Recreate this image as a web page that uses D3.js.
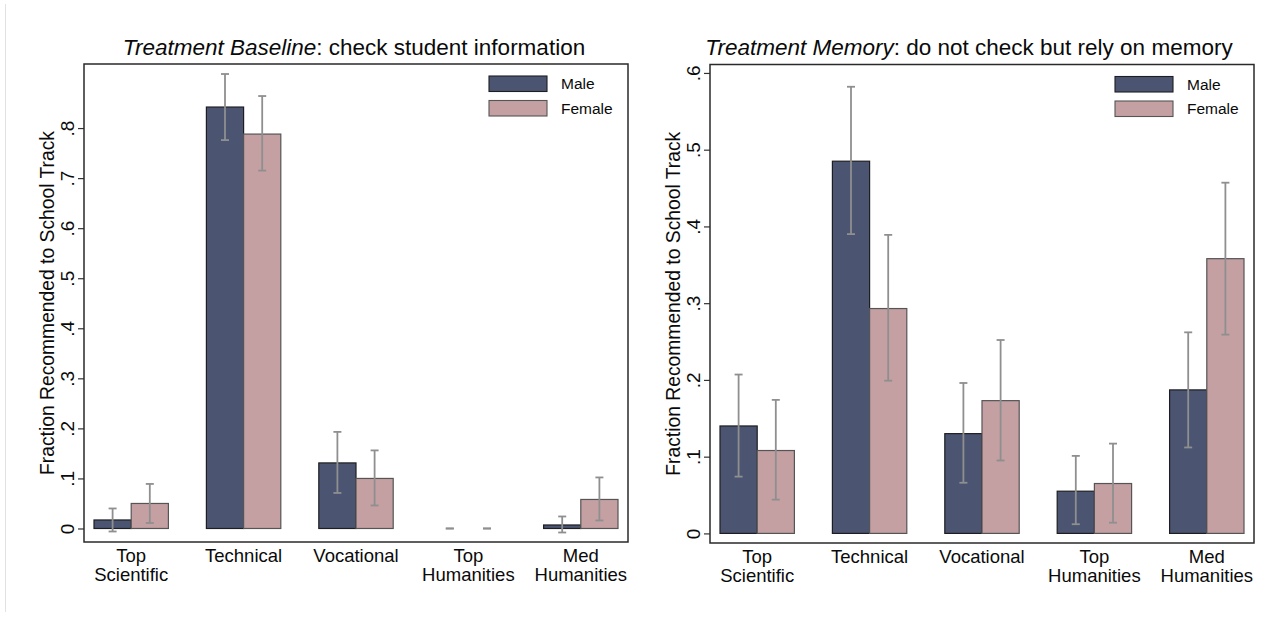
<!DOCTYPE html>
<html>
<head>
<meta charset="utf-8">
<script src="https://cdn.jsdelivr.net/npm/d3@7"></script>
<style>
    body { margin: 0; background: #fff; }
    svg { display: block; font-family: 'Liberation Sans', Arial, Helvetica, sans-serif; }
</style>
</head>
<body>
<div id="viz"></div>
<script>
const categories = ['Top Scientific', 'Technical', 'Vocational', 'Top Humanities', 'Med Humanities']
const categoryLines = [['Top', 'Scientific'], ['Technical'], ['Vocational'], ['Top', 'Humanities'], ['Med', 'Humanities']]
const groups = ['Male', 'Female']

// Treatment Baseline
const baselineMale = [0.017, 0.842, 0.131, 0, 0.007]
const baselineMaleLo = [-0.006, 0.776, 0.071, 0, -0.008]
const baselineMaleHi = [0.040, 0.908, 0.193, 0, 0.024]
const baselineFemale = [0.050, 0.788, 0.100, 0, 0.058]
const baselineFemaleLo = [0.011, 0.715, 0.046, 0, 0.016]
const baselineFemaleHi = [0.089, 0.864, 0.156, 0, 0.102]
const baselineTicks = [0, 0.1, 0.2, 0.3, 0.4, 0.5, 0.6, 0.7, 0.8]

// Treatment Memory
const memoryMale = [0.140, 0.485, 0.130, 0.055, 0.187]
const memoryMaleLo = [0.074, 0.390, 0.066, 0.012, 0.112]
const memoryMaleHi = [0.207, 0.582, 0.196, 0.101, 0.262]
const memoryFemale = [0.108, 0.293, 0.173, 0.065, 0.358]
const memoryFemaleLo = [0.044, 0.199, 0.095, 0.014, 0.259]
const memoryFemaleHi = [0.174, 0.389, 0.252, 0.117, 0.457]
const memoryTicks = [0, 0.1, 0.2, 0.3, 0.4, 0.5, 0.6]

const width = 1264,
    height = 618

const fills = { Male: '#4b5571', Female: '#c4a0a3' }
const strokes = { Male: '#1e1e22', Female: '#555' }

const svg = d3.select('#viz').append('svg')
    .attr('width', width)
    .attr('height', height)
    .attr('viewBox', [0, 0, width, height])

// faint page edge on the left
svg.append('line')
    .attr('x1', 5.5).attr('x2', 5.5)
    .attr('y1', 4).attr('y2', 612)
    .attr('stroke', '#e2e2e2')

const toRows = (male, maleLo, maleHi, female, femaleLo, femaleHi) =>
    categories.map((c, i) => ({
        category: c,
        lines: categoryLines[i],
        bars: [
            { group: 'Male', value: male[i], lo: maleLo[i], hi: maleHi[i] },
            { group: 'Female', value: female[i], lo: femaleLo[i], hi: femaleHi[i] }
        ]
    }))

const panel = (rows, opts) => {
    const { left, right, top, bottom, yDomain, ticks, titleItalic, titleRest, titleX } = opts

    const g = svg.append('g')

    const x = d3.scaleBand()
        .domain(categories)
        .range([left + 10, right - 10])
        .paddingInner(0.338)
        .paddingOuter(0)

    const xg = d3.scaleBand()
        .domain(groups)
        .range([0, x.bandwidth()])

    const y = d3.scaleLinear()
        .domain(yDomain)
        .range([bottom, top])

    // title
    const title = g.append('text')
        .attr('x', titleX)
        .attr('y', 55)
        .attr('text-anchor', 'middle')
        .style('font-size', '22.5px')
        .attr('fill', '#0a0a0a')
    title.append('tspan').style('font-style', 'italic').text(titleItalic)
    title.append('tspan').text(titleRest)

    // y axis (Stata style, labels rotated)
    const yAxis = d3.axisLeft(y)
        .tickValues(ticks)
        .tickSize(6)
        .tickFormat(d => d === 0 ? '0' : d3.format('.1f')(d).replace(/^0/, ''))

    const yAxisG = g.append('g')
        .attr('transform', `translate(${left}, 0)`)
        .call(yAxis)
    yAxisG.select('.domain').remove()
    yAxisG.selectAll('.tick line').attr('stroke', '#333').attr('stroke-width', 1.2)
    yAxisG.selectAll('.tick text')
        .attr('x', null).attr('dy', null)
        .attr('transform', 'translate(-17, 0) rotate(-90)')
        .attr('text-anchor', 'middle')
        .attr('dy', '0.35em')
        .style('font-size', '19px')
        .style('font-family', "'Liberation Sans', Arial, sans-serif")
        .attr('fill', '#0a0a0a')

    g.append('text')
        .attr('transform', `translate(${left - 37}, ${(top + bottom) / 2}) rotate(-90)`)
        .attr('text-anchor', 'middle')
        .attr('dy', '0.35em')
        .style('font-size', '19.3px')
        .attr('fill', '#0a0a0a')
        .text('Fraction Recommended to School Track')

    // bars
    const cat = g.selectAll('.cat').data(rows)
        .enter()
        .append('g')
        .attr('class', 'cat')
        .attr('transform', d => `translate(${x(d.category)}, 0)`)

    cat.selectAll('rect').data(d => d.bars.filter(b => b.value > 0))
        .enter()
        .append('rect')
        .attr('x', d => xg(d.group))
        .attr('y', d => y(d.value))
        .attr('width', xg.bandwidth())
        .attr('height', d => y(0) - y(d.value))
        .attr('fill', d => fills[d.group])
        .attr('stroke', d => strokes[d.group])
        .attr('stroke-width', 1.2)

    // confidence intervals
    const ci = cat.selectAll('.ci').data(d => d.bars)
        .enter()
        .append('g')
        .attr('class', 'ci')
        .attr('transform', d => `translate(${xg(d.group) + xg.bandwidth() / 2}, 0)`)
        .attr('stroke', '#8f8f8f')
        .attr('stroke-width', 1.8)

    ci.append('line')
        .attr('y1', d => y(d.lo))
        .attr('y2', d => y(d.hi))
    ci.append('line')
        .attr('x1', -4).attr('x2', 4)
        .attr('y1', d => y(d.hi)).attr('y2', d => y(d.hi))
    ci.append('line')
        .attr('x1', -4).attr('x2', 4)
        .attr('y1', d => y(d.lo)).attr('y2', d => y(d.lo))

    // category labels
    const lab = g.selectAll('.catlab').data(rows)
        .enter()
        .append('text')
        .attr('class', 'catlab')
        .attr('text-anchor', 'middle')
        .style('font-size', '18.5px')
        .attr('fill', '#0a0a0a')
    lab.selectAll('tspan').data(d => d.lines.map(l => ({ l, c: d.category })))
        .enter()
        .append('tspan')
        .attr('x', d => x(d.c) + x.bandwidth() / 2)
        .attr('y', (d, i) => bottom + 19.5 + i * 19.5)
        .text(d => d.l)

    // frame
    g.append('rect')
        .attr('x', left)
        .attr('y', top)
        .attr('width', right - left)
        .attr('height', bottom - top)
        .attr('fill', 'none')
        .attr('stroke', '#2a2a2a')
        .attr('stroke-width', 1.5)

    // legend
    const legend = g.append('g')
        .attr('transform', `translate(${right - 139}, ${top + 12})`)
    const li = legend.selectAll('g').data(groups)
        .enter()
        .append('g')
        .attr('transform', (d, i) => `translate(0, ${i * 24.5})`)
    li.append('rect')
        .attr('width', 58)
        .attr('height', 15.5)
        .attr('fill', d => fills[d])
        .attr('stroke', d => strokes[d])
        .attr('stroke-width', 1.1)
    li.append('text')
        .attr('x', 72)
        .attr('y', 8)
        .attr('dy', '0.35em')
        .style('font-size', '15.5px')
        .attr('fill', '#0a0a0a')
        .text(d => d)
}

panel(toRows(baselineMale, baselineMaleLo, baselineMaleHi, baselineFemale, baselineFemaleLo, baselineFemaleHi), {
    left: 84, right: 628, top: 64, bottom: 542,
    yDomain: [-0.027, 0.928],
    ticks: baselineTicks,
    titleItalic: 'Treatment Baseline',
    titleRest: ': check student information',
    titleX: 354
})

panel(toRows(memoryMale, memoryMaleLo, memoryMaleHi, memoryFemale, memoryFemaleLo, memoryFemaleHi), {
    left: 710, right: 1254, top: 64.5, bottom: 543,
    yDomain: [-0.0125, 0.611],
    ticks: memoryTicks,
    titleItalic: 'Treatment Memory',
    titleRest: ': do not check but rely on memory',
    titleX: 969
})
</script>
</body>
</html>
